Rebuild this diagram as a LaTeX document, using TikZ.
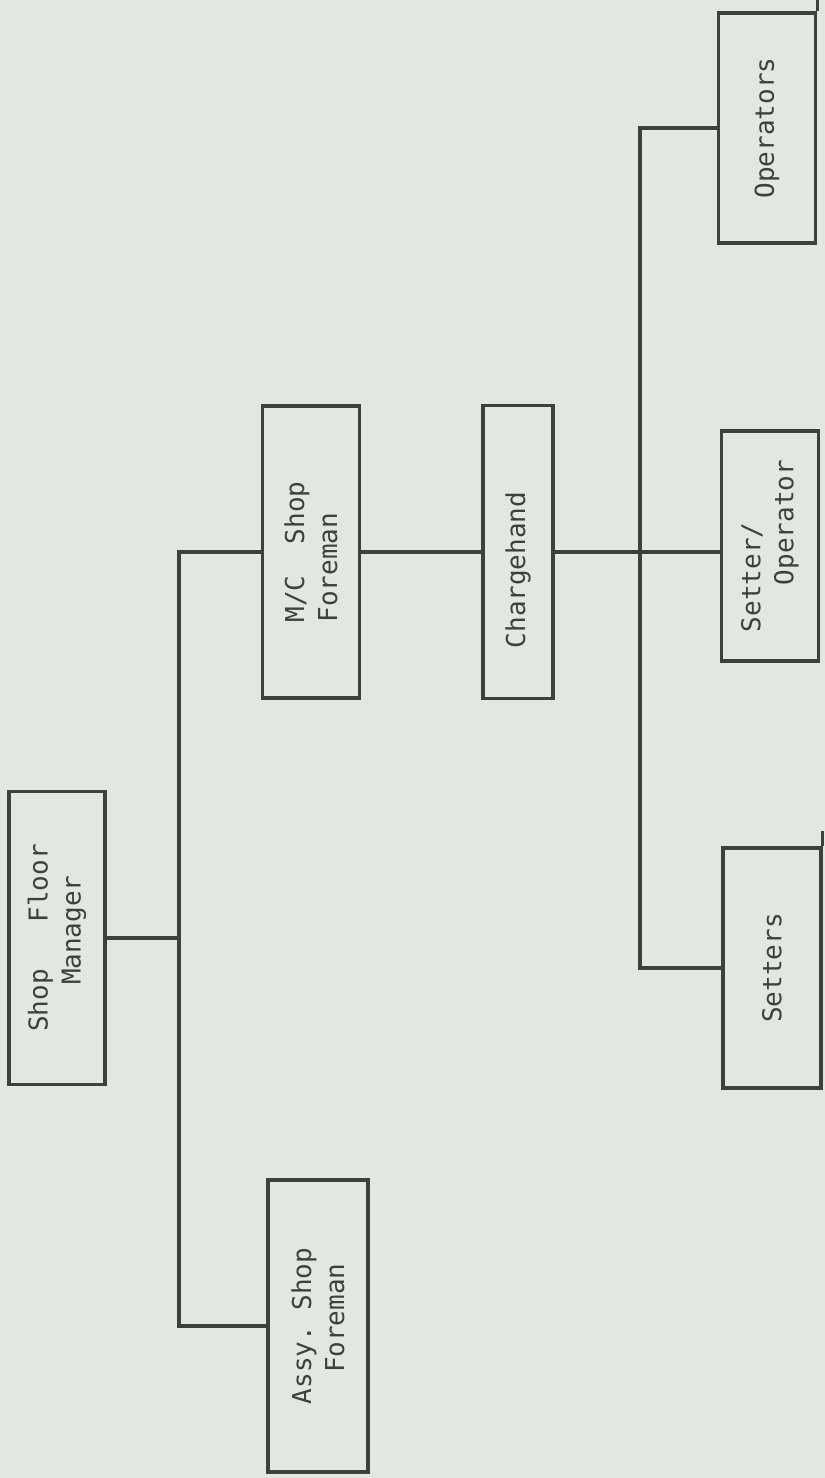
\documentclass[tikz,border=0pt]{standalone}
\usepackage{fontspec}
\newfontfamily\typewriter{DejaVu Sans Mono}
\usetikzlibrary{positioning,calc}
\definecolor{paper}{RGB}{226,231,226}
\definecolor{ink}{RGB}{62,64,62}
\tikzset{every picture/.style={line width=0.9pt}}
% boxes are turned a quarter: local north is the left side of the page, local south the right
\tikzset{
    post/.style={draw=ink, rotate=90, inner sep=0pt, align=left, text=ink,
        font=\typewriter\fontsize{7.4}{9.4}\selectfont},
}

\begin{document}
\begin{tikzpicture}[x=0.1mm, y=-0.1mm]
    \fill[paper] (0,0) rectangle (825,1478);
    \useasboundingbox (0,0) rectangle (825,1478);

    \node[post, minimum width=29.3mm, minimum height=9.6mm] (sfm) at (57,938) {Shop\ \ \ Floor\\\hphantom{Sho}Manager\hspace*{1.2mm}};
    \node[post, minimum width=29.2mm, minimum height=9.7mm] (mc) at (311,552) {M/C\ \ Shop\\Foreman};
    \node[post, minimum width=29.2mm, minimum height=10mm] (assy) at (318,1326) {Assy.\ Shop\\\hphantom{As}Foreman};
    \node[post, minimum width=29.3mm, minimum height=7mm] (ch) at (518,552) {Chargehand\hspace*{3.6mm}};
    \node[post, minimum width=23mm, minimum height=9.7mm] (op) at (767,128) {Operators};
    \node[post, minimum width=23mm, minimum height=9.7mm] (so) at (770,546) {Setter/\\\hphantom{Set}Operator};
    \node[post, minimum width=24mm, minimum height=9.8mm] (st) at (772,968) {Setters};

    \coordinate (busA) at (179,552);
    \coordinate (busB) at (640,552);

    \draw[ink] (sfm.south) -- (sfm.south -| busA);
    \draw[ink] (mc.north) -- (mc.north -| busA) -- (assy.north -| busA) -- (assy.north);
    \draw[ink] (mc.south) -- (ch.north);
    \draw[ink] (ch.south) -- (so.north |- ch.south);
    \draw[ink] (op.north) -- (op.north -| busB) -- (st.north -| busB) -- (st.north);
    % pen ran past the corner
    \draw[ink] (op.south east) -- ++(0,-16);
    \draw[ink] (st.south east) -- ++(0,-15);
\end{tikzpicture}
\end{document}
